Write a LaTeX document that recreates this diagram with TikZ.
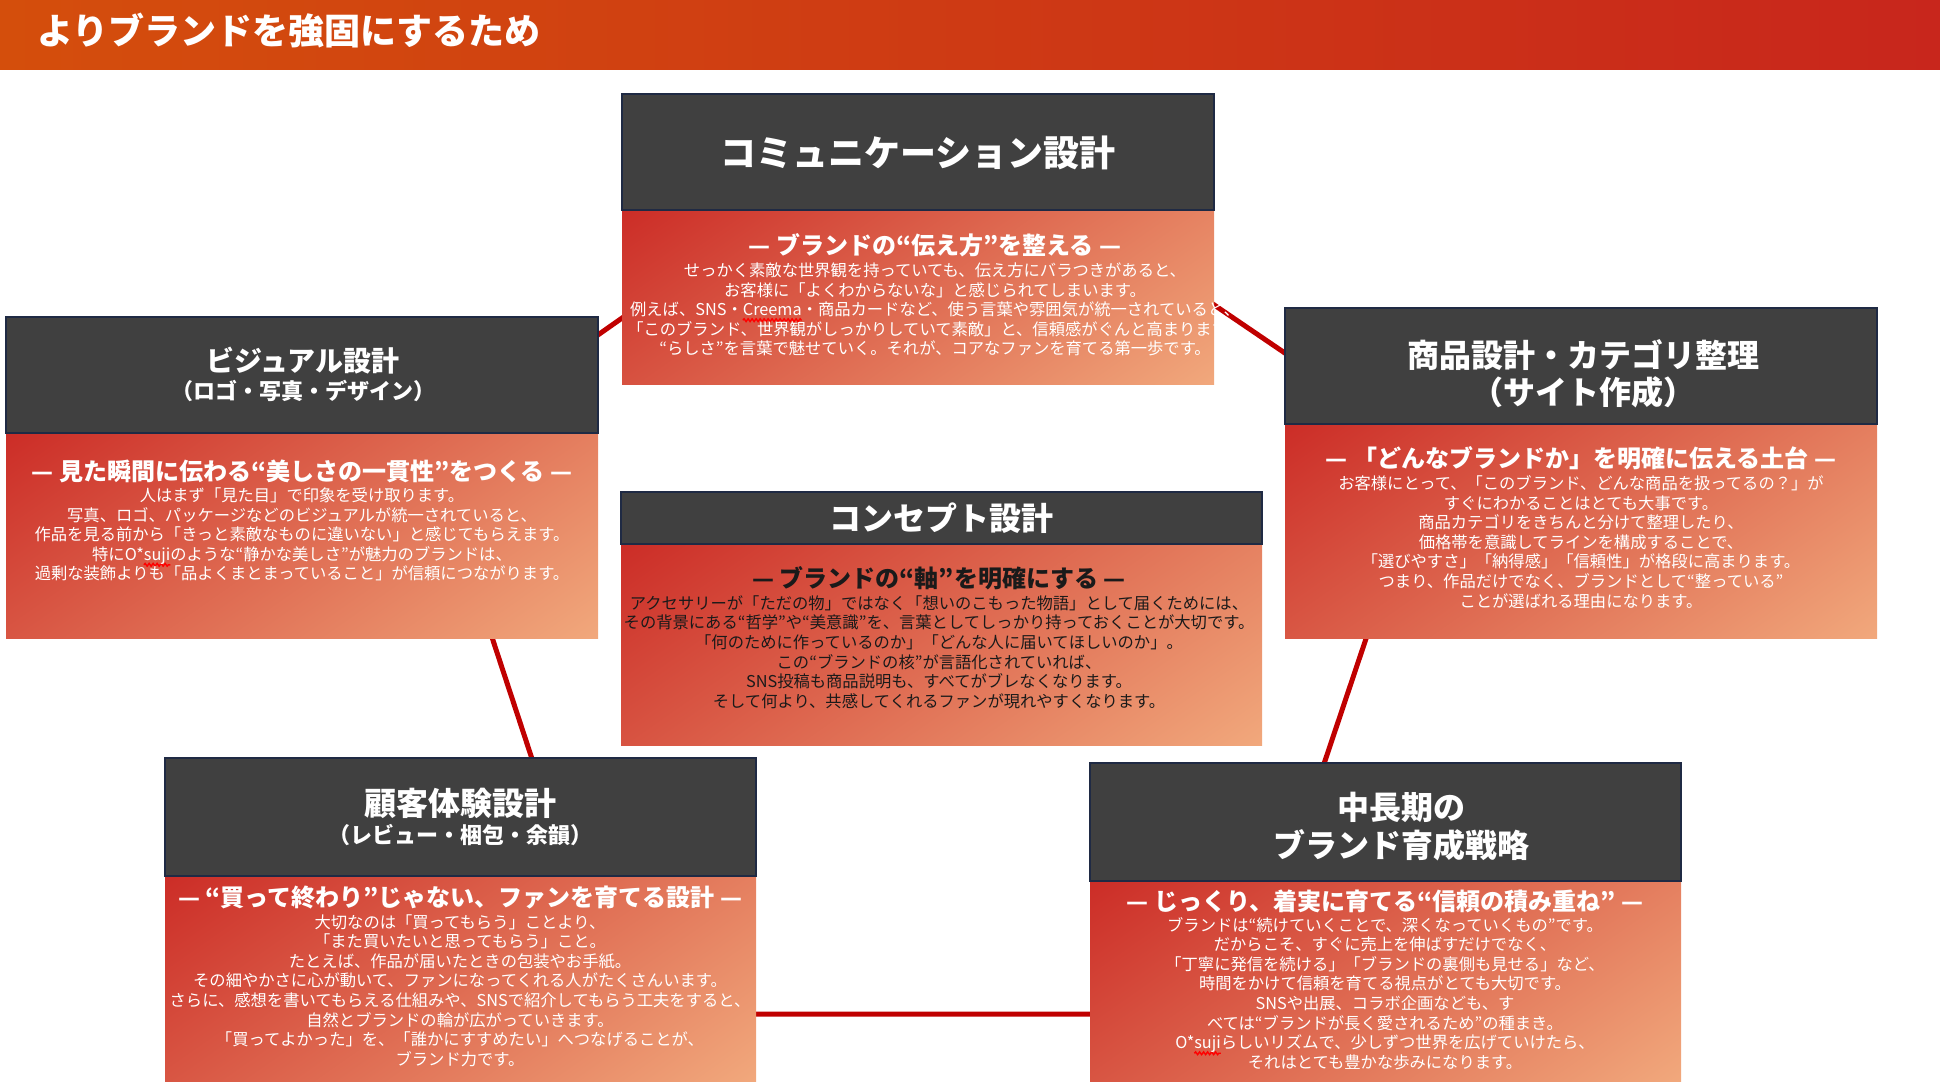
\documentclass[tikz,border=0pt]{standalone}
\usepackage{fontspec}
\setmainfont{Noto Sans CJK JP}
\usetikzlibrary{calc,decorations.pathmorphing}

\definecolor{titleorange}{HTML}{D44E0C}
\definecolor{titlered}{HTML}{C8261C}
\definecolor{headgray}{HTML}{404040}
\definecolor{headline}{HTML}{1F2A44}
\definecolor{bodyred}{HTML}{C8201E}
\definecolor{bodypeach}{HTML}{F5B585}
\definecolor{linkred}{HTML}{C00000}
\definecolor{inkdark}{HTML}{1A1A1A}

% diagonal fill of the text boxes
\pgfdeclareverticalshading{bodyshade}{100bp}{color(0bp)=(bodypeach); color(8bp)=(bodypeach); color(92bp)=(bodyred); color(100bp)=(bodyred)}

% red wavy spell-check mark under a word
\newcommand\spellmark[1]{\setbox0=\hbox{#1}\rlap{\tikz[overlay]\draw[red, line width=1.4pt, decorate, decoration={snake, amplitude=1.4pt, segment length=4pt}] (0pt,-4.5pt) -- (\the\wd0,-4.5pt);}\box0}

\tikzset{
  headbox/.style={fill=headgray, draw=headline, line width=2pt},
  bodybox/.style={shading=bodyshade, shading angle=35},
  link/.style={linkred, line width=5pt},
  headtext/.style={text=white, align=center, inner sep=0pt, font=\bfseries\fontsize{32}{37}\selectfont},
  notetext/.style={text=white, inner sep=0pt, font=\bfseries\fontsize{22}{26}\selectfont},
  subtext/.style={text=white, inner sep=0pt, font=\bfseries\fontsize{24}{28}\selectfont},
  bodytext/.style={text=white, align=center, inner sep=0pt, font=\fontsize{16.3}{19.6}\selectfont},
}

\begin{document}
\begin{tikzpicture}[x=1pt,y=-1pt]
\useasboundingbox (0,0) rectangle (1940,1088);

% Title bar
\shade[left color=titleorange, right color=titlered] (0,0) rectangle (1940,69);
\node[anchor=west, text=white, inner sep=0pt, font=\bfseries\fontsize{36}{40}\selectfont] (title) at (37,31) {よりブランドを強固にするため};

% Pentagon behind the boxes
\coordinate (pTop) at (923,107);
\coordinate (pRight) at (1429,451);
\coordinate (pBotR) at (1240,1014);
\coordinate (pBotL) at (616,1014);
\coordinate (pLeft) at (431,452);
\draw[link] (pTop) -- (pRight) -- (pBotR) -- (pBotL) -- (pLeft) -- cycle;

% Communication
\shade[bodybox] (622,210) rectangle (1214,384);
\draw[headbox] (622,94) rectangle (1214,210);
\node[headtext, font=\bfseries\fontsize{36}{40}\selectfont] (commHead) at (918,153) {コミュニケーション設計};
\node[subtext] (commSub) at (935,245) {— ブランドの“伝え方”を整える —};
\node[bodytext] (commBody) at (935,309.5) {せっかく素敵な世界観を持っていても、伝え方にバラつきがあると、\\
お客様に「よくわからないな」と感じられてしまいます。\\
例えば、SNS・\spellmark{Creema}・商品カードなど、使う言葉や雰囲気が統一されていると、\\
「このブランド、世界観がしっかりしていて素敵」と、信頼感がぐんと高まります。\\
“らしさ"を言葉で魅せていく。それが、コアなファンを育てる第一歩です。};

% Visual
\shade[bodybox] (6,433) rectangle (598,638);
\draw[headbox] (6,317) rectangle (598,433);
\node[headtext, font=\bfseries\fontsize{28}{32}\selectfont] (visHead) at (303,361) {ビジュアル設計};
\node[notetext] (visNote) at (303,391) {（ロゴ・写真・デザイン）};
\node[subtext] (visSub) at (302,471) {— 見た瞬間に伝わる“美しさの一貫性”をつくる —};
\node[bodytext] (visBody) at (302,534.5) {人はまず「見た目」で印象を受け取ります。\\
写真、ロゴ、パッケージなどのビジュアルが統一されていると、\\
作品を見る前から「きっと素敵なものに違いない」と感じてもらえます。\\
特にO*\spellmark{suji}のような“静かな美しさ"が魅力のブランドは、\\
過剰な装飾よりも「品よくまとまっていること」が信頼につながります。};

% Product
\shade[bodybox] (1285,424) rectangle (1877,638);
\draw[headbox] (1285,308) rectangle (1877,424);
\node[headtext] (prodHead) at (1583,373.5) {商品設計・カテゴリ整理\\（サイト作成）};
\node[subtext] (prodSub) at (1581,458) {— 「どんなブランドか」を明確に伝える土台 —};
\node[bodytext] (prodBody) at (1581,542) {お客様にとって、「このブランド、どんな商品を扱ってるの？」が\\
すぐにわかることはとても大事です。\\
商品カテゴリをきちんと分けて整理したり、\\
価格帯を意識してラインを構成することで、\\
「選びやすさ」「納得感」「信頼性」が格段に高まります。\\
つまり、作品だけでなく、ブランドとして“整っている"\\
ことが選ばれる理由になります。};

% Concept
\shade[bodybox] (621,544) rectangle (1262,745);
\draw[headbox] (621,492) rectangle (1262,544);
\node[headtext] (concHead) at (941,518) {コンセプト設計};
\node[subtext, text=inkdark] (concSub) at (939,578) {— ブランドの“軸”を明確にする —};
\node[bodytext, text=inkdark] (concBody) at (939,652) {アクセサリーが「ただの物」ではなく「想いのこもった物語」として届くためには、\\
その背景にある“哲学"や“美意識"を、言葉としてしっかり持っておくことが大切です。\\
「何のために作っているのか」「どんな人に届いてほしいのか」。\\
この“ブランドの核"が言語化されていれば、\\
SNS投稿も商品説明も、すべてがブレなくなります。\\
そして何より、共感してくれるファンが現れやすくなります。};

% Customer
\shade[bodybox] (165,876) rectangle (756,1081);
\draw[headbox] (165,758) rectangle (756,876);
\node[headtext] (custHead) at (460,803) {顧客体験設計};
\node[notetext] (custNote) at (460,835) {（レビュー・梱包・余韻）};
\node[subtext] (custSub) at (460,897) {— “買って終わり”じゃない、ファンを育てる設計 —};
\node[bodytext] (custBody) at (460,990.5) {大切なのは「買ってもらう」ことより、\\
「また買いたいと思ってもらう」こと。\\
たとえば、作品が届いたときの包装やお手紙。\\
その細やかさに心が動いて、ファンになってくれる人がたくさんいます。\\
さらに、感想を書いてもらえる仕組みや、SNSで紹介してもらう工夫をすると、\\
自然とブランドの輪が広がっていきます。\\
「買ってよかった」を、「誰かにすすめたい」へつなげることが、\\
ブランド力です。};

% Mid-long term
\shade[bodybox] (1090,881) rectangle (1681,1081);
\draw[headbox] (1090,763) rectangle (1681,881);
\node[headtext, font=\bfseries\fontsize{32}{38}\selectfont] (termHead) at (1401,827) {中長期の\\ブランド育成戦略};
\node[subtext] (termSub) at (1385,901) {— じっくり、着実に育てる“信頼の積み重ね” —};
\node[bodytext] (termBody) at (1385,993.5) {ブランドは“続けていくことで、深くなっていくもの"です。\\
だからこそ、すぐに売上を伸ばすだけでなく、\\
「丁寧に発信を続ける」「ブランドの裏側も見せる」など、\\
時間をかけて信頼を育てる視点がとても大切です。\\
SNSや出展、コラボ企画なども、す\\
べては“ブランドが長く愛されるため"の種まき。\\
O*\spellmark{suji}らしいリズムで、少しずつ世界を広げていけたら、\\
それはとても豊かな歩みになります。};

\end{tikzpicture}
\end{document}
